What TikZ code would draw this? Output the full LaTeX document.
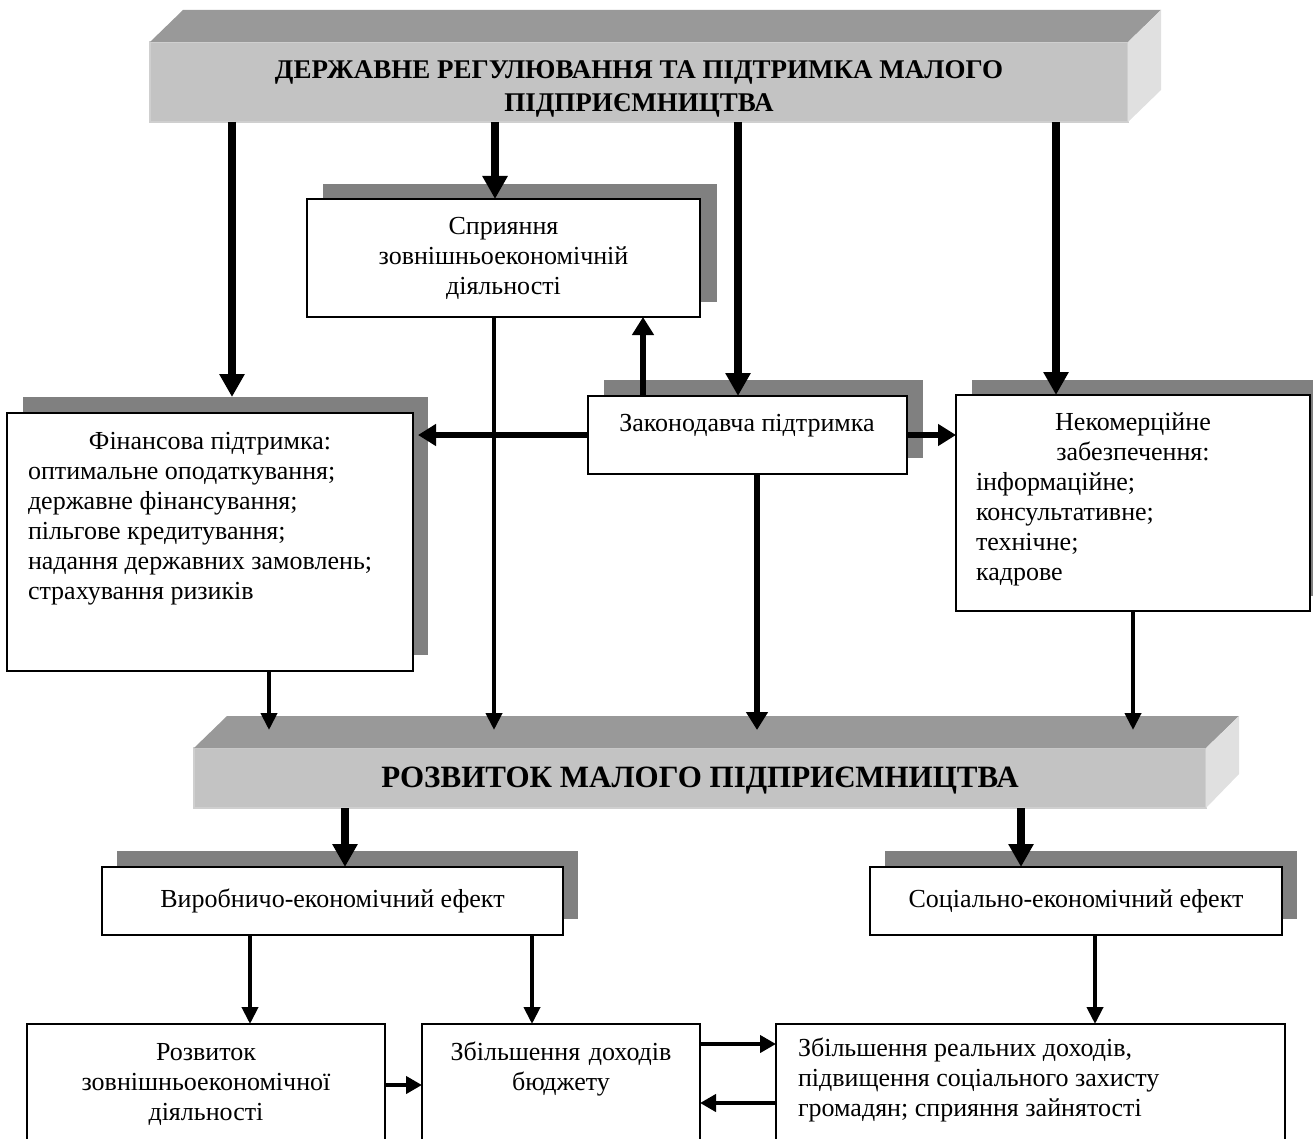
\documentclass[tikz,border=0pt]{standalone}
\usepackage{fontspec}
\setmainfont{Liberation Serif}
\usetikzlibrary{arrows.meta}
\definecolor{topface}{HTML}{999999}
\definecolor{frontface}{HTML}{C3C3C3}
\definecolor{frontedge}{HTML}{CFCFCF}
\definecolor{sideface}{HTML}{E0E0E0}
\definecolor{shadegray}{HTML}{808080}
\begin{document}
\begin{tikzpicture}[x=1pt,y=-1pt,
  every node/.style={inner sep=0pt, outer sep=0pt},
  body/.style={font=\fontsize{26}{30}\selectfont},
  box/.style={draw, line width=1.8pt, fill=white, anchor=north west, body},
  shadebox/.style={fill=shadegray, anchor=north west},
  face/.style={fill=frontface, draw=frontedge, line width=2pt, anchor=north west},
  big/.style={line width=8pt, -{Triangle[length=23pt,width=24pt]}},
  mid/.style={line width=6pt, -{Triangle[length=18pt,width=21pt]}},
  thin/.style={line width=4pt, -{Triangle[length=17pt,width=16pt]}},
  link/.style={line width=4.5pt, -{Triangle[length=16pt,width=17pt]}},
]
\useasboundingbox (0,0) rectangle (1313,1139);
\clip (0,0) rectangle (1313,1139);

% ---- top 3D bar
\node[face, minimum width=978pt, minimum height=80pt] (topbar) at (150,42) {};
\fill[topface] (topbar.north west) -- ++(33,-32) -- ([shift={(33,-32)}]topbar.north east) -- (topbar.north east) -- cycle;
\fill[sideface] (topbar.north east) -- ++(33,-32) -- ++(0,80) -- (topbar.south east) -- cycle;
\node[align=center, font=\fontsize{27}{33}\selectfont\bfseries] (topT) at ([yshift=-7pt]topbar.center)
  {ДЕРЖАВНЕ РЕГУЛЮВАННЯ ТА ПІДТРИМКА МАЛОГО\\ПІДПРИЄМНИЦТВА};

% ---- bottom 3D bar
\node[face, minimum width=1012pt, minimum height=60pt] (rozv) at (194,748) {};
\fill[topface] (rozv.north west) -- ++(33,-32) -- ([shift={(33,-32)}]rozv.north east) -- (rozv.north east) -- cycle;
\fill[sideface] (rozv.north east) -- ++(33,-32) -- ++(0,58) -- (rozv.south east) -- cycle;
\node[font=\fontsize{31}{36}\selectfont\bfseries] (rozvT) at ([yshift=-3pt]rozv.center)
  {РОЗВИТОК МАЛОГО ПІДПРИЄМНИЦТВА};

% ---- shadows
\node[shadebox, minimum width=394pt, minimum height=118pt] (sprjS) at (323,184) {};
\node[shadebox, minimum width=405pt, minimum height=258pt] (finS) at (23,397) {};
\node[shadebox, minimum width=319pt, minimum height=78pt] (zakS) at (604,380) {};
\node[shadebox, minimum width=360pt, minimum height=216pt] (nekS) at (972,380) {};
\node[shadebox, minimum width=461pt, minimum height=68pt] (virS) at (117,851) {};
\node[shadebox, minimum width=412pt, minimum height=68pt] (socS) at (885,851) {};

% ---- boxes
\node[box, minimum width=393pt, minimum height=118pt, align=center] (sprj) at (307,199)
  {Сприяння\\зовнішньоекономічній\\діяльності};
\node[box, minimum width=406pt, minimum height=258pt] (fin) at (7,413) {};
\node[box, minimum width=319pt, minimum height=78pt] (zak) at (588,396) {};
\node[box, minimum width=354pt, minimum height=216pt] (nek) at (956,395) {};
\node[box, minimum width=461pt, minimum height=68pt] (vir) at (102,867) {Виробничо-економічний ефект};
\node[box, minimum width=412pt, minimum height=68pt] (soc) at (870,867) {Соціально-економічний ефект};
\node[box, minimum width=358pt, minimum height=200pt] (b1) at (27,1024) {};
\node[box, minimum width=278pt, minimum height=200pt] (b2) at (422,1024) {};
\node[box, minimum width=509pt, minimum height=200pt] (b3) at (776,1024) {};

% ---- texts
\node[body, anchor=base west, text width=364pt, align=flush left] (finT) at (28,449)
  {\makebox[364pt]{Фінансова підтримка:}\\оптимальне оподаткування;\\державне фінансування;\\пільгове кредитування;\\надання державних замовлень;\\страхування ризиків};
\node[body, anchor=base] (zakT) at (747,431) {Законодавча підтримка};
\node[body, anchor=base west, text width=314pt, align=flush left] (nekT) at (976,430)
  {\makebox[314pt]{Некомерційне}\\\makebox[314pt]{забезпечення:}\\інформаційне;\\консультативне;\\технічне;\\кадрове};
\node[body, anchor=base, text width=358pt, align=center] (b1T) at (206,1060)
  {Розвиток\\зовнішньоекономічної\\діяльності};
\node[body, anchor=base, text width=278pt, align=center] (b2T) at (561,1060)
  {Збільшення доходів\\бюджету};
\node[body, anchor=base west, text width=480pt, align=flush left] (b3T) at (798,1056)
  {Збільшення реальних доходів,\\підвищення соціального захисту\\громадян; сприяння зайнятості};

% ---- connectors from the top bar
\draw[big] ([xshift=209pt]finS.north west |- topbar.south) -- ([xshift=209pt]finS.north west);
\draw[big] ([xshift=188pt]sprj.north west |- topbar.south) -- ([xshift=188pt]sprj.north west);
\draw[big] ([xshift=150pt]zak.north west |- topbar.south) -- ([xshift=150pt]zak.north west);
\draw[big] ([xshift=100pt]nek.north west |- topbar.south) -- ([xshift=100pt]nek.north west);

% ---- from Законодавча підтримка
\draw[mid] (zak.west) -- ([xshift=5pt]fin.east |- zak.west);
\draw[mid] (zak.east) -- (zak.east -| nek.west);
\draw[mid] ([xshift=55pt]zak.north west) -- ([xshift=55pt]zak.north west |- sprj.south);
\draw[mid] ([xshift=169pt]zak.south west) -- ([xshift=169pt,yshift=18pt]zak.south west |- rozv.north);

% ---- into the bottom bar
\draw[thin] ([xshift=187pt]sprj.south west) -- ([xshift=187pt,yshift=18pt]sprj.south west |- rozv.north);
\draw[thin] ([xshift=262pt]fin.south west) -- ([xshift=262pt,yshift=18pt]fin.south west |- rozv.north);
\draw[thin] (nek.south) -- ([yshift=18pt]nek.south |- rozv.north);

% ---- from the bottom bar
\draw[big] ([xshift=151pt]rozv.south west) -- ([xshift=151pt]rozv.south west |- vir.north);
\draw[big] ([xshift=827pt]rozv.south west) -- ([xshift=827pt]rozv.south west |- soc.north);

% ---- effects to results
\draw[thin] ([xshift=148pt]vir.south west) -- ([xshift=148pt]vir.south west |- b1.north);
\draw[thin] ([xshift=430pt]vir.south west) -- ([xshift=430pt]vir.south west |- b2.north);
\draw[thin] ([xshift=225pt]soc.south west) -- ([xshift=225pt]soc.south west |- b3.north);

% ---- between results
\draw[link] ([yshift=-61pt]b1.north east) -- ([yshift=-61pt]b1.north east -| b2.west);
\draw[link] ([yshift=-20pt]b2.north east) -- ([yshift=-20pt]b2.north east -| b3.west);
\draw[link] ([yshift=-79pt]b3.north west) -- ([yshift=-79pt]b3.north west -| b2.east);
\end{tikzpicture}
\end{document}
